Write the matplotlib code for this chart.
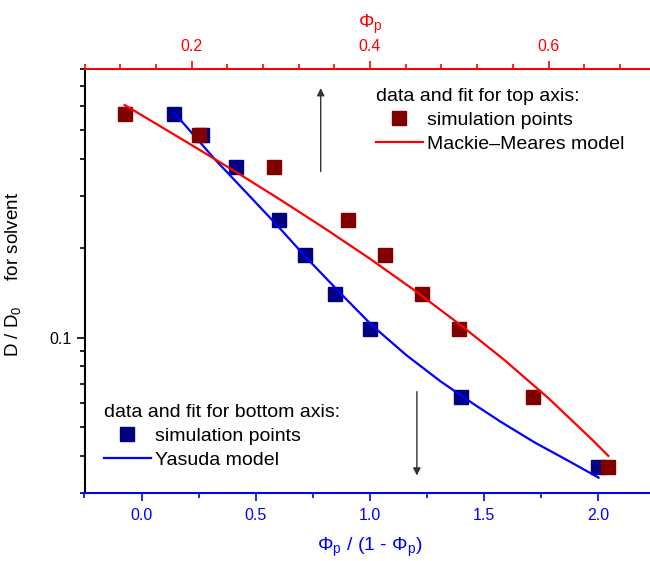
import numpy as np
import matplotlib
matplotlib.use("Agg")
import matplotlib.pyplot as plt
from matplotlib import ticker
from matplotlib.lines import Line2D

plt.rcParams['font.family'] = ['Liberation Sans', 'DejaVu Sans']
plt.rcParams['mathtext.fontset'] = 'custom'
plt.rcParams['mathtext.rm'] = 'Liberation Sans'
plt.rcParams['mathtext.it'] = 'Liberation Sans:italic'

# simulation points, D/D0 for solvent (same values on both x scales)
phi_p = [0.125, 0.208, 0.292, 0.375, 0.417, 0.458, 0.500, 0.583, 0.667]
ratio = [0.143, 0.263, 0.412, 0.600, 0.714, 0.846, 1.000, 1.400, 2.000]
d_sim = [0.565, 0.480, 0.376, 0.249, 0.189, 0.140, 0.107, 0.063, 0.0366]

# Mackie-Meares fit (top axis)
mm_phi = [0.125, 0.15, 0.20, 0.25, 0.30, 0.35, 0.40, 0.45, 0.50, 0.55, 0.60, 0.65, 0.667]
mm_d = [0.605, 0.546, 0.444, 0.360, 0.290, 0.232, 0.184, 0.144, 0.111, 0.0843, 0.0625, 0.0450, 0.0400]

# Yasuda fit (bottom axis)
ya_x = [0.142, 0.32, 0.43, 0.59, 0.72, 0.87, 1.01, 1.16, 1.31, 1.45, 1.57, 1.72, 1.86, 2.00]
ya_d = [0.571, 0.398, 0.324, 0.240, 0.186, 0.141, 0.1096, 0.0871, 0.0711, 0.0600, 0.0522, 0.0444, 0.0388, 0.0338]

RED = '#ff0000'
BLUE = '#0000ff'
MAROON = '#800000'
NAVY = '#000080'

fig = plt.figure(figsize=(6.5, 5.61), dpi=100)
ax = fig.add_axes([0.130, 0.1212, 0.8786, 0.7558])
ax2 = ax.twiny()

ax.set_yscale('log')
ax.set_ylim(0.03, 0.8)
ax.set_xlim(-0.25, 2.25)
ax2.set_xlim(0.08, 0.72)

# bottom axis data
ax.plot(ratio, d_sim, 's', color=NAVY, ms=10.5, mec=NAVY, zorder=2)
ax.plot(ya_x, ya_d, '-', color=BLUE, lw=1.6, zorder=3)

# top axis data
ax2.plot(phi_p, d_sim, 's', color=MAROON, ms=10.5, mec=MAROON, zorder=2)
ax2.plot(mm_phi, mm_d, '-', color=RED, lw=1.6, zorder=3)

# spines
for s in ['top', 'right']:
    ax.spines[s].set_visible(False)
for s in ['left', 'right', 'bottom']:
    ax2.spines[s].set_visible(False)
ax.spines['left'].set_color('black')
ax.spines['left'].set_linewidth(1.5)
ax.spines['bottom'].set_color(BLUE)
ax.spines['bottom'].set_linewidth(1.5)
ax2.spines['top'].set_color(RED)
ax2.spines['top'].set_linewidth(1.5)

# ticks
ax.xaxis.set_major_locator(ticker.MultipleLocator(0.5))
ax.xaxis.set_minor_locator(ticker.MultipleLocator(0.25))
ax.xaxis.set_major_formatter(ticker.FormatStrFormatter('%.1f'))
ax.tick_params(axis='x', which='both', colors=BLUE, labelsize=11.5, direction='out', pad=5)
ax.tick_params(axis='x', which='major', length=6, width=1.2)
ax.tick_params(axis='x', which='minor', length=3.6, width=1.2)

ax.yaxis.set_major_locator(ticker.LogLocator(base=10, numticks=10))
ax.yaxis.set_minor_locator(ticker.LogLocator(base=10, subs=np.arange(2, 10), numticks=10))
ax.yaxis.set_major_formatter(ticker.FuncFormatter(lambda v, p: f'{v:g}'))
ax.yaxis.set_minor_formatter(ticker.NullFormatter())
ax.tick_params(axis='y', which='both', colors='black', labelsize=11.5, direction='out')
ax.tick_params(axis='y', which='major', length=6, width=1.2)
ax.tick_params(axis='y', which='minor', length=3.6, width=1.2)

ax2.xaxis.set_major_locator(ticker.MultipleLocator(0.2))
ax2.xaxis.set_minor_locator(ticker.MultipleLocator(0.04))
ax2.xaxis.set_major_formatter(ticker.FormatStrFormatter('%.1f'))
ax2.tick_params(axis='x', which='both', colors=RED, labelsize=11.5, direction='out', pad=5)
ax2.tick_params(axis='x', which='major', length=6, width=1.2)
ax2.tick_params(axis='x', which='minor', length=3.6, width=1.2)

# axis labels
ax.set_xlabel(r'$\Phi_\mathrm{p}$ / (1 - $\Phi_\mathrm{p}$)', color=BLUE, fontsize=14, labelpad=9)
ax2.set_xlabel(r'$\Phi_\mathrm{p}$', color=RED, fontsize=14, labelpad=8)
ax.set_ylabel(r'D / D$_\mathrm{0}$     for solvent', fontsize=13.5)
ax.yaxis.set_label_coords(-0.108, 0.5165)

# arrows pointing to the axis each data set belongs to
ax.annotate('', xy=(0.784, 0.705), xytext=(0.784, 0.354),
            arrowprops=dict(arrowstyle='-|>', color='#333333', lw=1.0, mutation_scale=11))
ax.annotate('', xy=(1.205, 0.0336), xytext=(1.205, 0.0672),
            arrowprops=dict(arrowstyle='-|>', color='#333333', lw=1.0, mutation_scale=11))

# legends
leg_kw = dict(loc='upper left', bbox_transform=fig.transFigure, frameon=False,
              fontsize=14, title_fontsize=14, alignment='left', handlelength=2.4,
              handletextpad=0.2, labelspacing=0.32, borderpad=0, borderaxespad=0)

top_handles = [Line2D([], [], ls='none', marker='s', ms=10.5, color=MAROON),
               Line2D([], [], color=RED, lw=1.6)]
leg1 = ax2.legend(top_handles, ['simulation points', 'Mackie\u2013Meares model'],
                  title='data and fit for top axis:',
                  bbox_to_anchor=(376 / 650, 1 - 88 / 561), **leg_kw)
ax2.add_artist(leg1)

bot_handles = [Line2D([], [], ls='none', marker='s', ms=10.5, color=NAVY),
               Line2D([], [], color=BLUE, lw=1.6)]
leg2 = ax2.legend(bot_handles, ['simulation points', 'Yasuda model'],
                  title='data and fit for bottom axis:',
                  bbox_to_anchor=(104 / 650, 1 - 404 / 561), **leg_kw)

fig.savefig('out.png', dpi=100)
